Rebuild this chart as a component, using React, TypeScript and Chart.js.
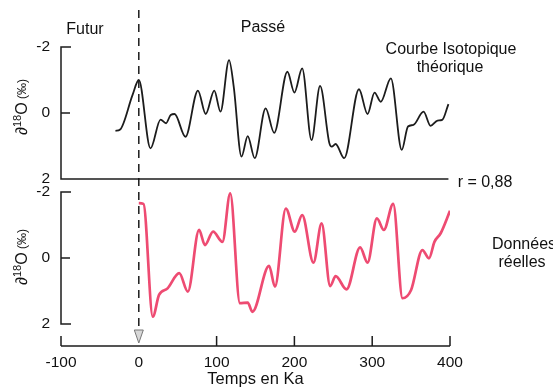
import React, { useEffect, useRef } from 'react';
import { Chart, registerables } from 'chart.js';

Chart.register(...registerables);

const theoAges = [-30, -24, -8, 0, 15, 28, 35, 41, 46, 60, 76, 86, 97, 105, 116, 122, 132, 140, 149, 163, 174, 191, 200, 210, 222, 233, 245, 248, 253, 264, 283, 294, 303, 311, 324, 338, 346, 353, 366, 375, 384, 390, 398];
const theoValues = [0.54, 0.5, -0.55, -1.0, 1.07, 0.2, 0.31, 0.06, 0.03, 0.72, -0.68, 0.03, -0.68, -0.04, -1.6, -0.8, 1.32, 0.7, 1.37, -0.14, 0.6, -1.25, -0.62, -1.35, 0.82, -0.82, 0.92, 1.02, 0.94, 1.37, -0.72, 0.03, -0.62, -0.34, -1.05, 1.12, 0.41, 0.36, -0.04, 0.39, 0.23, 0.21, -0.27];

const realAges = [0, 6, 18, 26, 37, 52, 63, 77.5, 85, 95.5, 107.5, 117.5, 130, 140, 146, 167.5, 175, 189, 200.5, 210, 224.5, 235, 246, 253, 267, 284.5, 294, 306, 315, 327, 339, 350, 364.5, 373, 380, 388, 400];
const realValues = [-1.66, -1.64, 1.78, 1.12, 0.92, 0.46, 1.02, -0.85, -0.39, -0.8, -0.49, -1.96, 1.37, 1.35, 1.63, 0.24, 0.87, -1.5, -0.8, -1.3, 0.14, -1.05, 0.85, 0.55, 0.95, -0.32, 0.14, -1.2, -0.85, -1.64, 1.22, 0.97, -0.24, 0.01, -0.49, -0.75, -1.43];

const xTicks = [-100, 0, 100, 200, 300, 400];
const yTicks = [-2, 0, 2];

const FONT = '"Liberation Sans", Arial, Helvetica, sans-serif';
const INK = '#1c1c1c';
const PINK = '#ee4b72';

function drawYTitle(ctx: CanvasRenderingContext2D, baseX: number, centerY: number) {
  const parts = [
    { t: '∂', size: 16, dy: 0 },
    { t: '18', size: 11, dy: -6 },
    { t: 'O', size: 16, dy: 0 },
    { t: ' (‰)', size: 12, dy: -1 },
  ];
  let total = 0;
  const widths = parts.map((p) => {
    ctx.font = `${p.size}px ${FONT}`;
    const w = ctx.measureText(p.t).width;
    total += w;
    return w;
  });
  ctx.save();
  ctx.translate(baseX, centerY);
  ctx.rotate(-Math.PI / 2);
  ctx.textAlign = 'left';
  ctx.textBaseline = 'alphabetic';
  ctx.fillStyle = '#111';
  let x = -total / 2;
  parts.forEach((p, i) => {
    ctx.font = `${p.size}px ${FONT}`;
    ctx.fillText(p.t, x, p.dy);
    x += widths[i];
  });
  ctx.restore();
}

const decorPlugin = {
  id: 'decor',
  afterDraw(chart: any) {
    const { ctx, chartArea } = chart;
    const sx = chart.scales.x;
    const yt = chart.scales.yTop;
    const yb = chart.scales.yBot;
    const left = chartArea.left;
    ctx.save();
    ctx.strokeStyle = INK;
    ctx.lineWidth = 1.5;
    ctx.lineCap = 'butt';
    // top panel bracket + baseline
    ctx.beginPath();
    ctx.moveTo(left + 10, yt.getPixelForValue(-2));
    ctx.lineTo(left, yt.getPixelForValue(-2));
    ctx.lineTo(left, yt.getPixelForValue(2));
    ctx.lineTo(sx.getPixelForValue(398), yt.getPixelForValue(2));
    ctx.moveTo(left, yt.getPixelForValue(0));
    ctx.lineTo(left + 9, yt.getPixelForValue(0));
    ctx.stroke();
    // bottom panel bracket
    ctx.beginPath();
    ctx.moveTo(left + 10, yb.getPixelForValue(-2));
    ctx.lineTo(left, yb.getPixelForValue(-2));
    ctx.lineTo(left, yb.getPixelForValue(2));
    ctx.lineTo(left + 10, yb.getPixelForValue(2));
    ctx.moveTo(left, yb.getPixelForValue(0));
    ctx.lineTo(left + 9, yb.getPixelForValue(0));
    ctx.stroke();
    // x axis line with upward ticks
    const ay = chartArea.bottom;
    ctx.beginPath();
    ctx.moveTo(sx.getPixelForValue(-100), ay);
    ctx.lineTo(sx.getPixelForValue(400), ay);
    xTicks.forEach((v) => {
      if (v === 0) return;
      const px = sx.getPixelForValue(v);
      ctx.moveTo(px, ay);
      ctx.lineTo(px, ay - 10);
    });
    ctx.stroke();
    // triangle marker at 0
    const x0 = sx.getPixelForValue(0);
    ctx.beginPath();
    ctx.moveTo(x0 - 4.5, ay - 16);
    ctx.lineTo(x0 + 4.5, ay - 16);
    ctx.lineTo(x0, ay - 3);
    ctx.closePath();
    ctx.fillStyle = '#d8d8d8';
    ctx.fill();
    ctx.strokeStyle = '#777';
    ctx.lineWidth = 1;
    ctx.stroke();
    // dashed present line
    ctx.beginPath();
    ctx.setLineDash([8, 6]);
    ctx.strokeStyle = INK;
    ctx.lineWidth = 1.5;
    ctx.moveTo(x0, 10);
    ctx.lineTo(x0, ay - 20);
    ctx.stroke();
    ctx.setLineDash([]);
    // y-axis titles
    drawYTitle(ctx, 27, (yt.getPixelForValue(-2) + yt.getPixelForValue(2)) / 2 - 6);
    drawYTitle(ctx, 27, (yb.getPixelForValue(-2) + yb.getPixelForValue(2)) / 2 - 1);
    // annotations
    ctx.fillStyle = '#111';
    ctx.textAlign = 'center';
    ctx.textBaseline = 'middle';
    ctx.font = `16px ${FONT}`;
    ctx.fillText('Futur', 85, 30);
    ctx.fillText('Passé', 263, 28);
    ctx.fillText('Courbe Isotopique', 451, 50);
    ctx.fillText('théorique', 450, 68);
    ctx.fillText('r = 0,88', 485, 183);
    ctx.fillText('Données', 524, 245);
    ctx.fillText('réelles', 522, 263);
    ctx.restore();
  },
};

export default function App() {
  const ref = useRef<HTMLCanvasElement | null>(null);
  useEffect(() => {
    if (!ref.current) return;
    const yScale = (min: number, max: number, weight: number) => ({
      type: 'linear',
      position: 'left',
      stack: 'panels',
      stackWeight: weight,
      reverse: true,
      min,
      max,
      afterBuildTicks: (s: any) => { s.ticks = yTicks.map((v) => ({ value: v })); },
      grid: { display: false, drawTicks: false },
      border: { display: false },
      ticks: { color: '#111', font: { family: FONT, size: 15.5 }, padding: 11 },
      title: { display: false },
      afterFit: (s: any) => { s.width = 61; },
    });
    const chart = new Chart(ref.current, {
      type: 'line',
      data: {
        datasets: [
          {
            label: 'Courbe Isotopique théorique',
            data: theoAges.map((a, i) => ({ x: a, y: theoValues[i] })),
            borderColor: INK,
            borderWidth: 1.8,
            pointRadius: 0,
            cubicInterpolationMode: 'monotone',
            yAxisID: 'yTop',
          },
          {
            label: 'Données réelles',
            data: realAges.map((a, i) => ({ x: a, y: realValues[i] })),
            borderColor: PINK,
            borderWidth: 2.7,
            pointRadius: 0,
            cubicInterpolationMode: 'monotone',
            yAxisID: 'yBot',
          },
        ],
      },
      options: {
        animation: false,
        responsive: true,
        maintainAspectRatio: false,
        layout: { padding: { top: 47, right: 103, left: 0, bottom: 0 } },
        plugins: { legend: { display: false }, tooltip: { enabled: false } },
        scales: {
          x: {
            type: 'linear',
            min: -100,
            max: 400,
            afterBuildTicks: (s: any) => { s.ticks = xTicks.map((v) => ({ value: v })); },
            grid: { display: false, drawTicks: false },
            border: { display: false },
            ticks: { color: '#111', font: { family: FONT, size: 15.5 }, padding: 7, maxRotation: 0 },
            title: { display: true, text: 'Temps en Ka', color: '#111', font: { family: FONT, size: 16.5, lineHeight: 1 }, padding: { top: 0, bottom: 0 } },
            afterFit: (s: any) => { s.height = 42; },
          },
          yBot: yScale(-2.197, 2.667, 160.5),
          yTop: yScale(-2, 2.197, 138.5),
        },
      } as any,
      plugins: [decorPlugin],
    });
    return () => chart.destroy();
  }, []);
  return (
    <div style={{ position: 'fixed', left: 0, top: 0, width: 553, height: 388, background: '#fff' }}>
      <canvas ref={ref} />
    </div>
  );
}
